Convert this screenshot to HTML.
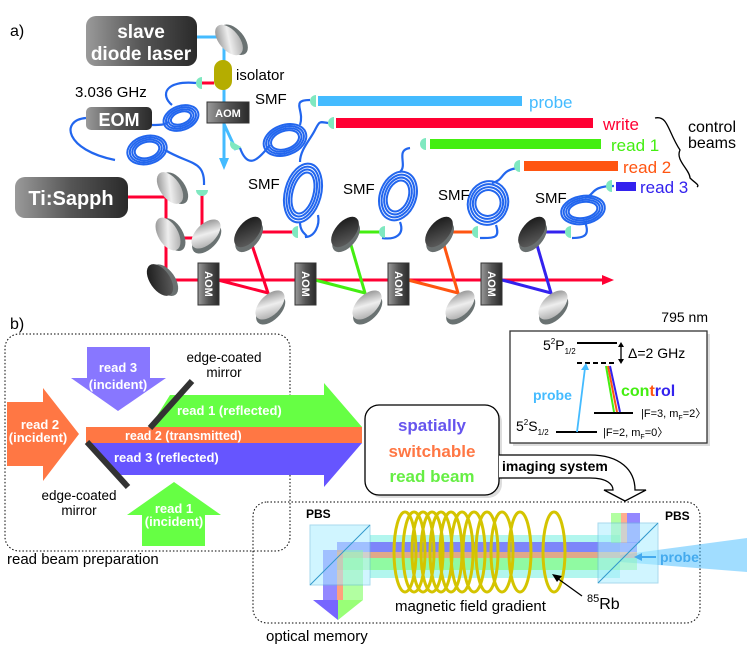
<!DOCTYPE html>
<html><head><meta charset="utf-8"><style>
html,body{margin:0;padding:0;background:#fff}
svg{display:block;font-family:"Liberation Sans",sans-serif}
</style></head><body>
<svg width="747" height="655" viewBox="0 0 747 655" xmlns="http://www.w3.org/2000/svg">
<defs>
<linearGradient id="box" x1="0" x2="1" y1="0" y2="0"><stop offset="0" stop-color="#9a9a9a"/><stop offset="0.5" stop-color="#555"/><stop offset="1" stop-color="#2a2a2a"/></linearGradient>
<linearGradient id="mL" x1="0" x2="1" y1="0" y2="1"><stop offset="0" stop-color="#777"/><stop offset="0.5" stop-color="#eee"/><stop offset="1" stop-color="#999"/></linearGradient>
<linearGradient id="mD" x1="0" x2="1" y1="0" y2="1"><stop offset="0" stop-color="#111"/><stop offset="0.6" stop-color="#444"/><stop offset="1" stop-color="#666"/></linearGradient>
<g id="mirL"><ellipse cx="4" cy="3" rx="10" ry="18" fill="#6a7272"/><ellipse cx="0" cy="0" rx="10" ry="18" fill="url(#mL)"/></g>
<g id="mirD"><ellipse cx="4" cy="3" rx="10" ry="18" fill="#6a7070"/><ellipse cx="0" cy="0" rx="10" ry="18" fill="url(#mD)"/></g>
<g id="cpl"><path d="M0,-6 A6,6 0 0 0 0,6 Z" fill="#7fe8c0"/></g>
</defs>

<!-- ===== a) ===== -->
<text x="10" y="36" font-size="16">a)</text>
<rect x="86" y="16" width="111" height="50" rx="10" fill="url(#box)"/>
<text x="141" y="38" font-size="19" font-weight="bold" fill="#fff" text-anchor="middle">slave</text>
<text x="141" y="60" font-size="19" font-weight="bold" fill="#fff" text-anchor="middle">diode laser</text>
<rect x="86" y="107" width="66" height="23" rx="5" fill="url(#box)"/>
<text x="119" y="126" font-size="18" font-weight="bold" fill="#fff" text-anchor="middle">EOM</text>
<rect x="15" y="177" width="113" height="41" rx="10" fill="url(#box)"/>
<text x="71" y="205" font-size="20" font-weight="bold" fill="#fff" text-anchor="middle">Ti:Sapph</text>
<text x="75" y="97" font-size="15">3.036 GHz</text>

<polyline points="197,37 224,37 224,160" fill="none" stroke="#44bbff" stroke-width="3"/>
<polygon points="219,158 229,158 224,170" fill="#44bbff"/>
<line x1="224" y1="124" x2="236" y2="150" stroke="#44bbff" stroke-width="3"/>
<g transform="translate(229,40) rotate(-40)"><use href="#mirL"/></g>
<rect x="214" y="60" width="18" height="30" rx="9" fill="#b5ad00"/>
<text x="236" y="80" font-size="15">isolator</text>
<line x1="200" y1="83" x2="214" y2="83" stroke="#ff0033" stroke-width="3"/>
<use href="#cpl" transform="translate(202,83)"/>
<rect x="207" y="102" width="42" height="21" fill="url(#box)" stroke="#333"/>
<text x="228" y="117" font-size="11" font-weight="bold" fill="#fff" text-anchor="middle">AOM</text>
<use href="#cpl" transform="translate(236,144) rotate(-60)"/>

<g fill="none" stroke="#2266ee" stroke-width="2.2">
<path d="M196,83 C165,80 160,95 172,105"/>
<path d="M86,118 C60,120 65,150 115,160"/>
<path d="M152,125 C160,125 165,125 168,122"/>
<path d="M165,150 C190,165 205,160 204,185"/>
<path d="M240,148 C248,170 258,160 270,145"/>
<path d="M300,125 C305,110 290,100 310,100"/>
<path d="M300,162 C300,150 310,140 315,130 C320,120 320,122 328,123"/>
<path d="M300,222 C300,235 310,235 305,237"/>
<path d="M305,237 C315,237 320,225 318,215"/>
<path d="M410,148 C395,150 408,165 400,172"/>
<path d="M400,222 C405,235 395,240 382,238"/>
<path d="M518,168 C500,170 505,180 492,183"/>
<path d="M496,225 C500,238 495,238 480,238"/>
<path d="M614,186 C590,186 595,195 585,198"/>
<path d="M585,222 C590,235 585,238 572,238"/>
</g>
<g fill="none" stroke="#2266ee" stroke-width="2">
<g transform="translate(181,118) rotate(-20)"><ellipse rx="18" ry="12"/><ellipse rx="15.5" ry="10"/><ellipse rx="13" ry="8"/><ellipse rx="10.5" ry="6"/></g>
<g transform="translate(147,150) rotate(-15)"><ellipse rx="20" ry="14"/><ellipse rx="17.5" ry="12"/><ellipse rx="15" ry="10"/><ellipse rx="12.5" ry="8"/></g>
<g transform="translate(285,140) rotate(-20)"><ellipse rx="22" ry="15"/><ellipse rx="19.5" ry="13"/><ellipse rx="17" ry="11"/><ellipse rx="14.5" ry="9"/></g>
<g transform="translate(303,193) rotate(15)"><ellipse rx="18" ry="30"/><ellipse rx="15.5" ry="27"/><ellipse rx="13" ry="24"/><ellipse rx="10.5" ry="21"/></g>
<g transform="translate(398,196) rotate(20)"><ellipse rx="18" ry="25"/><ellipse rx="15.5" ry="22"/><ellipse rx="13" ry="19"/><ellipse rx="10.5" ry="16"/></g>
<g transform="translate(488,203) rotate(20)"><ellipse rx="20" ry="22"/><ellipse rx="17.5" ry="19"/><ellipse rx="15" ry="16"/><ellipse rx="12.5" ry="13"/></g>
<g transform="translate(583,210) rotate(-10)"><ellipse rx="22" ry="14"/><ellipse rx="19.5" ry="12"/><ellipse rx="17" ry="10"/><ellipse rx="14.5" ry="8"/></g>
</g>
<text x="255" y="104" font-size="15">SMF</text>
<text x="248" y="189" font-size="15">SMF</text>
<text x="343" y="194" font-size="15">SMF</text>
<text x="438" y="200" font-size="15">SMF</text>
<text x="535" y="203" font-size="15">SMF</text>

<rect x="318" y="96" width="204" height="10" fill="#44bbff"/>
<use href="#cpl" transform="translate(316,101)"/>
<text x="529" y="108" font-size="17" fill="#44bbff">probe</text>
<rect x="336" y="118" width="257" height="10" fill="#ff0033"/>
<use href="#cpl" transform="translate(334,123)"/>
<text x="603" y="130" font-size="17" fill="#ff0033">write</text>
<rect x="430" y="139" width="171" height="10" fill="#44ee11"/>
<use href="#cpl" transform="translate(426,144)"/>
<text x="611" y="151" font-size="17" fill="#44ee11">read 1</text>
<rect x="524" y="161" width="94" height="10" fill="#ff5511"/>
<use href="#cpl" transform="translate(520,166)"/>
<text x="623" y="173" font-size="17" fill="#ff5511">read 2</text>
<rect x="616" y="182" width="20" height="9" fill="#3322ee"/>
<use href="#cpl" transform="translate(612,186)"/>
<text x="640" y="193" font-size="17" fill="#3322ee">read 3</text>
<path d="M655,118 C668,115 668,132 680,150 C675,160 690,170 690,178 C695,183 700,185 697,187" fill="none" stroke="#000" stroke-width="1.3"/>
<text x="712" y="132" font-size="16" text-anchor="middle">control</text>
<text x="712" y="148" font-size="16" text-anchor="middle">beams</text>

<g fill="none" stroke="#ff0033" stroke-width="3">
<polyline points="128,197 166,197 166,280 605,280"/>
<polyline points="202,190 202,238 178,238"/>
<polyline points="218,280 268,293 252,245"/>
<line x1="255" y1="232" x2="295" y2="232"/>
</g>
<polygon points="602,275 614,280 602,285" fill="#ff0033"/>
<polyline points="315,280 365,293 351,245" fill="none" stroke="#44ee11" stroke-width="3"/>
<line x1="353" y1="232" x2="382" y2="232" stroke="#44ee11" stroke-width="3"/>
<polyline points="408,280 458,293 444,245" fill="none" stroke="#ff5511" stroke-width="3"/>
<line x1="446" y1="232" x2="475" y2="232" stroke="#ff5511" stroke-width="3"/>
<polyline points="502,280 551,293 537,245" fill="none" stroke="#3322ee" stroke-width="3"/>
<line x1="539" y1="232" x2="568" y2="232" stroke="#3322ee" stroke-width="3"/>
<use href="#cpl" transform="translate(298,232)"/>
<use href="#cpl" transform="translate(385,232)"/>
<use href="#cpl" transform="translate(478,232)"/>
<use href="#cpl" transform="translate(571,232)"/>
<use href="#cpl" transform="translate(202,190) rotate(-90)"/>

<g transform="translate(170,188) rotate(-35)"><use href="#mirL"/></g>
<g transform="translate(168,234) rotate(-30)"><use href="#mirL"/></g>
<g transform="translate(160,280) rotate(-35)"><use href="#mirD"/></g>
<g transform="translate(206,234) rotate(45)"><use href="#mirL"/></g>
<g transform="translate(248,232) rotate(40)"><use href="#mirD"/></g>
<g transform="translate(345,232) rotate(40)"><use href="#mirD"/></g>
<g transform="translate(439,232) rotate(40)"><use href="#mirD"/></g>
<g transform="translate(532,232) rotate(40)"><use href="#mirD"/></g>
<g transform="translate(270,305) rotate(45)"><use href="#mirL"/></g>
<g transform="translate(367,305) rotate(45)"><use href="#mirL"/></g>
<g transform="translate(460,305) rotate(45)"><use href="#mirL"/></g>
<g transform="translate(553,305) rotate(45)"><use href="#mirL"/></g>
<g font-size="11" font-weight="bold" fill="#fff" text-anchor="middle">
<rect x="198" y="263" width="21" height="42" fill="url(#box)" stroke="#333"/><text transform="translate(205,284) rotate(90)">AOM</text>
<rect x="295" y="263" width="21" height="42" fill="url(#box)" stroke="#333"/><text transform="translate(302,284) rotate(90)">AOM</text>
<rect x="388" y="263" width="21" height="42" fill="url(#box)" stroke="#333"/><text transform="translate(395,284) rotate(90)">AOM</text>
<rect x="481" y="263" width="21" height="42" fill="url(#box)" stroke="#333"/><text transform="translate(488,284) rotate(90)">AOM</text>
</g>

<!-- ===== b) ===== -->
<text x="10" y="329" font-size="16">b)</text>
<rect x="5" y="334" width="285" height="217" rx="14" fill="none" stroke="#000" stroke-dasharray="1.5,2"/>
<text x="7" y="564" font-size="15">read beam preparation</text>
<polygon points="87,347 150,347 150,378 166,378 118,411 71,378 87,378" fill="#8877ff"/>
<text x="118" y="372" font-size="13" font-weight="bold" fill="#fff" text-anchor="middle">read 3</text>
<text x="118" y="389" font-size="13" font-weight="bold" fill="#fff" text-anchor="middle">(incident)</text>
<polygon points="7,402 43,402 43,388 79,434 43,481 43,466 7,466" fill="#ff7744"/>
<text x="40" y="429" font-size="13" font-weight="bold" fill="#fff" text-anchor="middle">read 2</text>
<text x="38" y="442" font-size="13" font-weight="bold" fill="#fff" text-anchor="middle">(incident)</text>
<polygon points="142,546 205,546 205,515 221,515 174,482 127,515 142,515" fill="#66ff44"/>
<text x="174" y="513" font-size="13" font-weight="bold" fill="#fff" text-anchor="middle">read 1</text>
<text x="174" y="526" font-size="13" font-weight="bold" fill="#fff" text-anchor="middle">(incident)</text>
<polygon points="150,427 170,395 324,395 324,383 362,427" fill="#66ff44"/>
<rect x="86" y="427" width="276" height="16" fill="#ff7744"/>
<polygon points="86,443 362,443 324,487 324,475 120,475" fill="#6655ff"/>
<line x1="150" y1="428" x2="192" y2="381" stroke="#333" stroke-width="6"/>
<line x1="87" y1="442" x2="128" y2="487" stroke="#333" stroke-width="6"/>
<text x="177" y="415" font-size="13" font-weight="bold" fill="#fff">read 1  (reflected)</text>
<text x="125" y="440" font-size="12.5" font-weight="bold" fill="#fff">read 2  (transmitted)</text>
<text x="114" y="462" font-size="13" font-weight="bold" fill="#fff">read 3  (reflected)</text>
<text x="224" y="362" font-size="13.5" text-anchor="middle">edge-coated</text>
<text x="224" y="377" font-size="13.5" text-anchor="middle">mirror</text>
<text x="79" y="500" font-size="13.5" text-anchor="middle">edge-coated</text>
<text x="79" y="515" font-size="13.5" text-anchor="middle">mirror</text>

<rect x="368" y="408" width="134" height="90" rx="14" fill="#aaa" opacity="0.4"/>
<rect x="365" y="405" width="134" height="90" rx="14" fill="#fff" stroke="#000" stroke-width="1.3"/>
<text x="432" y="431" font-size="17" font-weight="bold" fill="#6655ee" text-anchor="middle">spatially</text>
<text x="432" y="457" font-size="17" font-weight="bold" fill="#ff7744" text-anchor="middle">switchable</text>
<text x="432" y="482" font-size="17" font-weight="bold" fill="#66ee44" text-anchor="middle">read beam</text>
<path d="M499,455 L590,455 C620,455 635,470 635,490 L646,490 L625,501 L604,490 L613,490 C613,485 608,478 590,478 L499,478" fill="#fff" stroke="#000" stroke-width="1.3"/>
<text x="502" y="471" font-size="14" font-weight="bold">imaging system</text>

<text x="708" y="322" font-size="14" text-anchor="end">795 nm</text>
<rect x="513" y="334" width="197" height="112" fill="#bbb" opacity="0.5"/>
<rect x="510" y="331" width="197" height="112" fill="#fff" stroke="#333" stroke-width="1.3"/>
<line x1="577" y1="343" x2="617" y2="343" stroke="#000" stroke-width="2"/>
<line x1="577" y1="363" x2="617" y2="363" stroke="#000" stroke-width="2" stroke-dasharray="5,3"/>
<line x1="621" y1="345" x2="621" y2="361" stroke="#000" stroke-width="1.3"/>
<polygon points="618,347 624,347 621,342" /><polygon points="618,359 624,359 621,364"/>
<text x="628" y="358" font-size="14">Δ=2 GHz</text>
<text x="543" y="350" font-size="14">5<tspan font-size="8" dy="-6">2</tspan><tspan dy="6">P</tspan><tspan font-size="8" dy="4">1/2</tspan></text>
<text x="516" y="431" font-size="14">5<tspan font-size="8" dy="-6">2</tspan><tspan dy="6">S</tspan><tspan font-size="8" dy="4">1/2</tspan></text>
<line x1="556" y1="432" x2="597" y2="432" stroke="#000" stroke-width="2"/>
<line x1="594" y1="413" x2="633" y2="413" stroke="#000" stroke-width="2"/>
<line x1="577" y1="432" x2="585" y2="368" stroke="#44bbff" stroke-width="1.8"/>
<polygon points="581,370 589,370 586,363" fill="#44bbff"/>
<line x1="614" y1="412" x2="606" y2="366" stroke="#44ee11" stroke-width="2"/>
<line x1="617" y1="412" x2="608" y2="366" stroke="#ff5511" stroke-width="2"/>
<line x1="620" y1="412" x2="610" y2="366" stroke="#3322ee" stroke-width="2"/>
<text x="533" y="400" font-size="14" font-weight="bold" fill="#44bbff">probe</text>
<text x="621" y="396" font-size="16" font-weight="bold"><tspan fill="#44ee11">con</tspan><tspan fill="#ff5511">t</tspan><tspan fill="#3322ee">rol</tspan></text>
<text x="641" y="417" font-size="11">|F=3, m<tspan font-size="7" dy="3">F</tspan><tspan dy="-3">=2〉</tspan></text>
<text x="603" y="436" font-size="11">|F=2, m<tspan font-size="7" dy="3">F</tspan><tspan dy="-3">=0〉</tspan></text>

<rect x="253" y="502" width="447" height="121" rx="14" fill="none" stroke="#000" stroke-dasharray="1.5,2"/>
<text x="266" y="641" font-size="15">optical memory</text>
<text x="306" y="518" font-size="12" font-weight="bold">PBS</text>
<text x="665" y="520" font-size="12" font-weight="bold">PBS</text>
<polygon points="620,555 747,538 747,572 620,562" fill="#44bbff" opacity="0.5"/>
<rect x="370" y="535" width="250" height="43" fill="#66eedd" opacity="0.5"/>
<rect x="337" y="542" width="300" height="10" fill="#6655ff" opacity="0.7"/>
<rect x="337" y="552" width="300" height="6" fill="#ff7744" opacity="0.6"/>
<rect x="337" y="558" width="300" height="12" fill="#66ff44" opacity="0.45"/>
<rect x="323" y="550" width="14" height="50" fill="#6655ff" opacity="0.7"/>
<rect x="337" y="550" width="6" height="50" fill="#ff7744" opacity="0.7"/>
<rect x="343" y="550" width="20" height="50" fill="#66ff44" opacity="0.5"/>
<polygon points="313,600 338,600 338,620" fill="#7766ff"/>
<polygon points="338,600 363,600 338,620" fill="#99ff77"/>
<rect x="611" y="513" width="10" height="30" fill="#66ff44" opacity="0.5"/>
<rect x="621" y="513" width="6" height="30" fill="#ff7744" opacity="0.6"/>
<rect x="627" y="513" width="13" height="30" fill="#6655ff" opacity="0.7"/>
<rect x="310" y="525" width="60" height="60" fill="#aaeeff" opacity="0.55" stroke="#66bbdd"/>
<line x1="310" y1="585" x2="370" y2="525" stroke="#3399cc"/>
<rect x="598" y="523" width="60" height="60" fill="#aaeeff" opacity="0.55" stroke="#66bbdd"/>
<line x1="598" y1="583" x2="658" y2="523" stroke="#3399cc"/>
<g fill="none" stroke="#d4c400" stroke-width="3">
<ellipse cx="405" cy="552" rx="11" ry="40"/><ellipse cx="414" cy="552" rx="11" ry="40"/>
<ellipse cx="423" cy="552" rx="11" ry="40"/><ellipse cx="432" cy="552" rx="11" ry="40"/>
<ellipse cx="441" cy="552" rx="11" ry="40"/><ellipse cx="451" cy="552" rx="11" ry="40"/>
<ellipse cx="462" cy="552" rx="11" ry="40"/><ellipse cx="474" cy="552" rx="11" ry="40"/>
<ellipse cx="487" cy="552" rx="11" ry="40"/><ellipse cx="502" cy="552" rx="11" ry="40"/>
<ellipse cx="520" cy="552" rx="11" ry="40"/><ellipse cx="554" cy="552" rx="11" ry="40"/>
</g>
<text x="660" y="562" font-size="14" font-weight="bold" fill="#44aaee">probe</text>
<line x1="638" y1="557" x2="656" y2="557" stroke="#44aaee" stroke-width="2"/>
<polygon points="634,557 642,553 642,561" fill="#44aaee"/>
<text x="395" y="611" font-size="15">magnetic field gradient</text>
<text x="587" y="609" font-size="16"><tspan font-size="11" dy="-7">85</tspan><tspan dy="7">Rb</tspan></text>
<line x1="582" y1="596" x2="557" y2="578" stroke="#000" stroke-width="1.3"/>
<polygon points="552,574 562,576 557,582"/>
</svg>
</body></html>
